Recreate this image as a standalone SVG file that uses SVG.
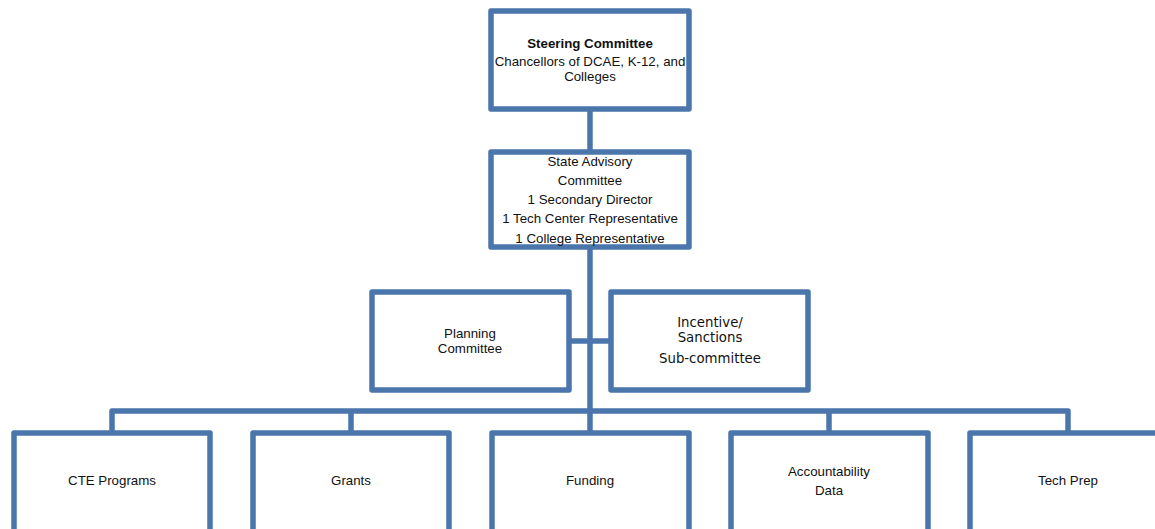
<svg xmlns="http://www.w3.org/2000/svg" width="1155" height="529" viewBox="0 0 1155 529">
<style>
.box{fill:#fff;stroke:#4a76ab;stroke-width:5.5;stroke-linejoin:round}
.ln{fill:none;stroke:#4a76ab;stroke-width:5.5;stroke-linejoin:round}
text{font-family:"Liberation Sans",Arial,sans-serif;font-size:13.3px;fill:#111;text-anchor:middle}
.b{font-weight:bold}
.v{font-family:"DejaVu Sans",Verdana,sans-serif;font-size:13.3px}
</style>
<rect x="0" y="0" width="1155" height="529" fill="#fff"/>
<g id="connectors">
<line class="ln" x1="590" y1="109" x2="590" y2="152"/>
<line class="ln" x1="590" y1="247" x2="590" y2="433"/>
<line class="ln" x1="569" y1="341" x2="611" y2="341"/>
<polyline class="ln" points="112,433 112,411 1068,411 1068,433"/>
<line class="ln" x1="351" y1="411" x2="351" y2="433"/>
<line class="ln" x1="829" y1="411" x2="829" y2="433"/>
</g>
<g id="steering">
<rect class="box" x="491" y="11" width="198" height="98"/>
<text class="b" x="590" y="48">Steering Committee</text>
<text x="590" y="66">Chancellors of DCAE, K-12, and</text>
<text x="590" y="81">Colleges</text>
</g>
<g id="advisory">
<rect class="box" x="491" y="152" width="198" height="95"/>
<text x="590" y="166">State Advisory</text>
<text x="590" y="185">Committee</text>
<text x="590" y="204">1 Secondary Director</text>
<text x="590" y="223">1 Tech Center Representative</text>
<text x="590" y="243">1 College Representative</text>
</g>
<g id="planning">
<rect class="box" x="372" y="292" width="197" height="98"/>
<text x="470" y="338">Planning</text>
<text x="470" y="353">Committee</text>
</g>
<g id="incentive">
<rect class="box" x="611" y="292" width="197" height="98"/>
<text class="v" x="710" y="327">Incentive/</text>
<text class="v" x="710" y="342">Sanctions</text>
<text class="v" x="710" y="363">Sub-committee</text>
</g>
<g id="cte">
<rect class="box" x="14" y="433" width="196" height="120"/>
<text x="112" y="485">CTE Programs</text>
</g>
<g id="grants">
<rect class="box" x="253" y="433" width="196" height="120"/>
<text x="351" y="485">Grants</text>
</g>
<g id="funding">
<rect class="box" x="492" y="433" width="197" height="120"/>
<text x="590" y="485">Funding</text>
</g>
<g id="accountability">
<rect class="box" x="731" y="433" width="197" height="120"/>
<text x="829" y="476">Accountability</text>
<text x="829" y="495">Data</text>
</g>
<g id="techprep">
<rect class="box" x="970" y="433" width="197" height="120"/>
<text x="1068" y="485">Tech Prep</text>
</g>
</svg>
